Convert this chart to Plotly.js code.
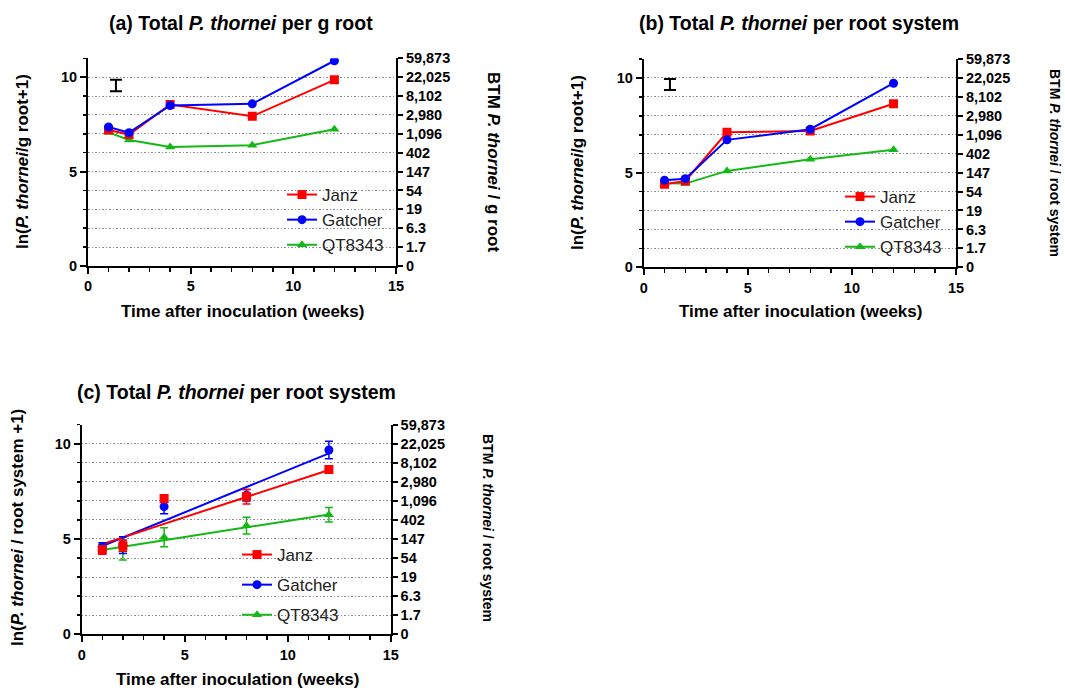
<!DOCTYPE html>
<html>
<head>
<meta charset="utf-8">
<script src="https://cdn.plot.ly/plotly-3.0.1.min.js"></script>
<style>html,body{margin:0;padding:0;background:#fff;}#chart{width:1065px;height:688px;}</style>
</head>
<body>
<div id="chart"></div>
<script>
// ---------- data ----------
const weeks = [1, 2, 4, 8, 12];
const seriesNames = ['Janz', 'Gatcher', 'QT8343'];

// (a) ln(P. thornei / g root + 1)
const aJanz    = [7.20, 6.96, 8.55, 7.93, 9.86];
const aGatcher = [7.36, 7.06, 8.50, 8.59, 10.87];
const aQT      = [7.08, 6.67, 6.30, 6.40, 7.24];
const aLsdX = [1.36];
const aLsdY = [9.56];
const aLsdErr = [0.31];

// (b) ln(P. thornei / root system + 1)
const bJanz    = [4.38, 4.56, 7.13, 7.20, 8.64];
const bGatcher = [4.60, 4.68, 6.73, 7.29, 9.72];
const bQT      = [4.44, 4.42, 5.09, 5.70, 6.21];
const bLsdX = [1.26];
const bLsdY = [9.65];
const bLsdErr = [0.29];

// (c) means with standard errors and fitted lines
const cJanz       = [4.42, 4.65, 7.12, 7.22, 8.65];
const cJanzErr    = [0.22, 0.30, 0.20, 0.38, 0.12];
const cGatcher    = [4.60, 4.68, 6.70, 7.29, 9.67];
const cGatcherErr = [0.20, 0.44, 0.38, 0.30, 0.46];
const cQT         = [4.50, 4.42, 5.09, 5.70, 6.27];
const cQTErr      = [0.20, 0.52, 0.50, 0.44, 0.38];
const fitX        = [1, 12];
const cJanzFit    = [4.73, 8.62];
const cGatcherFit = [4.63, 9.49];
const cQTFit      = [4.42, 6.29];

// axis labels
const rightTickVals = [0, 1, 2, 3, 4, 5, 6, 7, 8, 9, 10, 11];
const rightTickText = ['0', '1.7', '6.3', '19', '54', '147', '402', '1,096', '2,980', '8,102', '22,025', '59,873'];

// ---------- styling ----------
const W = 1065, H = 688;
const FONT = 'Liberation Sans, Arial, sans-serif';
const RED = '#ff0000', BLUE = '#0000ff', GREEN = '#14b814';
const px = v => v / W;
const py = v => 1 - v / H;

const styles = {
  Janz:    {color: RED,   symbol: 'square',      size: 9},
  Gatcher: {color: BLUE,  symbol: 'circle',      size: 9},
  QT8343:  {color: GREEN, symbol: 'triangle-up', size: 9}
};

function lineTrace(name, x, y, xa, ya, legend, rank) {
  const s = styles[name];
  return {x: x, y: y, xaxis: xa, yaxis: ya, mode: 'lines+markers', name: name,
    line: {color: s.color, width: 2}, marker: {symbol: s.symbol, size: s.size, color: s.color},
    legend: legend, legendrank: rank, hoverinfo: 'skip'};
}
function lsdTrace(x, y, e, xa, ya) {
  return {x: x, y: y, xaxis: xa, yaxis: ya, mode: 'markers', showlegend: false,
    marker: {size: 1, color: 'rgba(0,0,0,0)'},
    error_y: {type: 'data', array: e, visible: true, color: '#000', thickness: 2, width: 6},
    hoverinfo: 'skip'};
}

const traces = [];
// (a) draw order: QT, Janz, Gatcher (Gatcher on top); y4 is the right-hand BTM axis (same 0-11 scale)
traces.push(lineTrace('QT8343', weeks, aQT, 'x', 'y4', 'legend', 3));
traces.push(lineTrace('Janz', weeks, aJanz, 'x', 'y4', 'legend', 1));
traces.push(lineTrace('Gatcher', weeks, aGatcher, 'x', 'y4', 'legend', 2));
traces.push(lsdTrace(aLsdX, aLsdY, aLsdErr, 'x', 'y4'));
// (b)
traces.push(lineTrace('QT8343', weeks, bQT, 'x2', 'y5', 'legend2', 3));
traces.push(lineTrace('Janz', weeks, bJanz, 'x2', 'y5', 'legend2', 1));
traces.push(lineTrace('Gatcher', weeks, bGatcher, 'x2', 'y5', 'legend2', 2));
traces.push(lsdTrace(bLsdX, bLsdY, bLsdErr, 'x2', 'y5'));
// (c) fitted lines
const cFits = {Janz: cJanzFit, Gatcher: cGatcherFit, QT8343: cQTFit};
const cMeans = {Janz: [cJanz, cJanzErr], Gatcher: [cGatcher, cGatcherErr], QT8343: [cQT, cQTErr]};
['QT8343', 'Gatcher', 'Janz'].forEach(n => {
  traces.push({x: fitX, y: cFits[n], xaxis: 'x3', yaxis: 'y6', mode: 'lines', showlegend: false,
    line: {color: styles[n].color, width: 2}, hoverinfo: 'skip'});
});
['QT8343', 'Gatcher', 'Janz'].forEach(n => {
  const s = styles[n];
  traces.push({x: weeks, y: cMeans[n][0], xaxis: 'x3', yaxis: 'y6', mode: 'markers', showlegend: false,
    marker: {symbol: s.symbol, size: s.size, color: s.color},
    error_y: {type: 'data', array: cMeans[n][1], visible: true, color: s.color, thickness: 1.5, width: 4},
    hoverinfo: 'skip'});
});
// (c) legend entries
seriesNames.forEach(n => {
  const s = styles[n];
  traces.push({x: [null], y: [null], xaxis: 'x3', yaxis: 'y6', mode: 'lines+markers', name: n,
    line: {color: s.color, width: 2}, marker: {symbol: s.symbol, size: s.size, color: s.color},
    legend: 'legend3', legendgroup: 'c' + n});
});
// invisible anchors so the left-hand axes are always drawn
[['x', 'y'], ['x2', 'y2'], ['x3', 'y3']].forEach(p => {
  traces.push({x: [null], y: [null], xaxis: p[0], yaxis: p[1], mode: 'markers', showlegend: false,
    hoverinfo: 'skip'});
});

// ---------- axes ----------
const tickFont = {family: FONT, size: 14.5, color: '#000', weight: 'bold'};
function xAxis(dom, anchor) {
  return {domain: dom, anchor: anchor, range: [0, 15], tick0: 0, dtick: 5, ticks: 'outside', ticklen: 6,
    tickwidth: 2, tickcolor: '#000', showline: true, linewidth: 2, linecolor: '#000', showgrid: false,
    zeroline: false, tickfont: tickFont, fixedrange: true,
    minor: {dtick: 1, tick0: 0, ticks: 'outside', ticklen: 4, tickwidth: 1.5, tickcolor: '#000', showgrid: false}};
}
function yLeft(dom, anchor) {
  return {domain: dom, anchor: anchor, range: [0, 11], tick0: 0, dtick: 5, ticks: 'outside', ticklen: 6,
    tickwidth: 2, tickcolor: '#000', showline: true, linewidth: 2, linecolor: '#000', showgrid: false,
    zeroline: false, tickfont: tickFont, fixedrange: true,
    minor: {dtick: 1, tick0: 0, ticks: 'outside', ticklen: 3, tickwidth: 1.5, tickcolor: '#000', showgrid: false}};
}
function yRight(over, anchor) {
  return {overlaying: over, anchor: anchor, side: 'right', range: [0, 11], tickmode: 'array',
    tickvals: rightTickVals, ticktext: rightTickText, ticks: 'outside', ticklen: 5, tickwidth: 2,
    tickcolor: '#000', showline: true, linewidth: 2, linecolor: '#000', showgrid: true,
    gridcolor: '#8c8c8c', gridwidth: 1, griddash: '1.5px,2px', zeroline: false, tickfont: tickFont, fixedrange: true};
}

const domA = {x: [px(88), px(396)], y: [py(266), py(58.3)]};
const domB = {x: [px(643.7), px(956)], y: [py(267.3), py(59)]};
const domC = {x: [px(81.7), px(390.7)], y: [py(634.3), py(424.6)]};

// ---------- annotations ----------
function ann(text, x, y, size, angle) {
  return {text: text, x: px(x), y: py(y), xref: 'paper', yref: 'paper', showarrow: false,
    xanchor: 'center', yanchor: 'middle', textangle: angle || 0,
    font: {family: FONT, size: size, color: '#000'}};
}
const annotations = [
  ann('<b>(a) Total <i>P. thornei</i> per g root</b>', 241, 23, 19.5),
  ann('<b>(b) Total <i>P. thornei</i> per root system</b>', 799, 23, 19.5),
  ann('<b>(c) Total <i>P. thornei</i> per root system</b>', 236, 392, 19.5),
  ann('<b>Time after inoculation (weeks)</b>', 242, 312, 17),
  ann('<b>Time after inoculation (weeks)</b>', 800, 312, 17),
  ann('<b>Time after inoculation (weeks)</b>', 237, 679, 17),
  ann('<b>ln(<i>P. thornei</i>/g root+1)</b>', 23, 162, 17, -90),
  ann('<b>ln(<i>P. thornei</i>/g root+1)</b>', 578, 163, 17, -90),
  ann('<b>ln(<i>P. thornei</i> / root system +1)</b>', 17, 528, 17, -90),
  ann('<b>BTM <i>P. thornei</i> / g root</b>', 493, 162, 17, 90),
  ann('<b>BTM <i>P. thornei</i> / root system</b>', 1055, 163, 14, 90),
  ann('<b>BTM <i>P. thornei</i> / root system</b>', 488, 528, 14, 90)
];

const legFont = {family: FONT, size: 17, color: '#222'};
const layout = {
  width: W, height: H, margin: {l: 0, r: 0, t: 0, b: 0},
  paper_bgcolor: '#fff', plot_bgcolor: 'rgba(0,0,0,0)',
  font: {family: FONT, color: '#000'},
  hovermode: false,
  xaxis: xAxis(domA.x, 'y'), yaxis: yLeft(domA.y, 'x'),
  xaxis2: xAxis(domB.x, 'y2'), yaxis2: yLeft(domB.y, 'x2'),
  xaxis3: xAxis(domC.x, 'y3'), yaxis3: yLeft(domC.y, 'x3'),
  yaxis4: yRight('y', 'x'), yaxis5: yRight('y2', 'x2'), yaxis6: yRight('y3', 'x3'),
  legend: {x: px(282), y: py(177), xanchor: 'left', yanchor: 'top', bgcolor: 'rgba(0,0,0,0)',
    font: legFont, traceorder: 'normal'},
  legend2: {x: px(840), y: py(179), xanchor: 'left', yanchor: 'top', bgcolor: 'rgba(0,0,0,0)',
    font: legFont, traceorder: 'normal'},
  legend3: {x: px(237), y: py(537), xanchor: 'left', yanchor: 'top', bgcolor: 'rgba(0,0,0,0)',
    font: legFont, traceorder: 'grouped', tracegroupgap: 5},
  annotations: annotations
};

Plotly.newPlot('chart', traces, layout, {staticPlot: true, displayModeBar: false});
</script>
</body>
</html>
